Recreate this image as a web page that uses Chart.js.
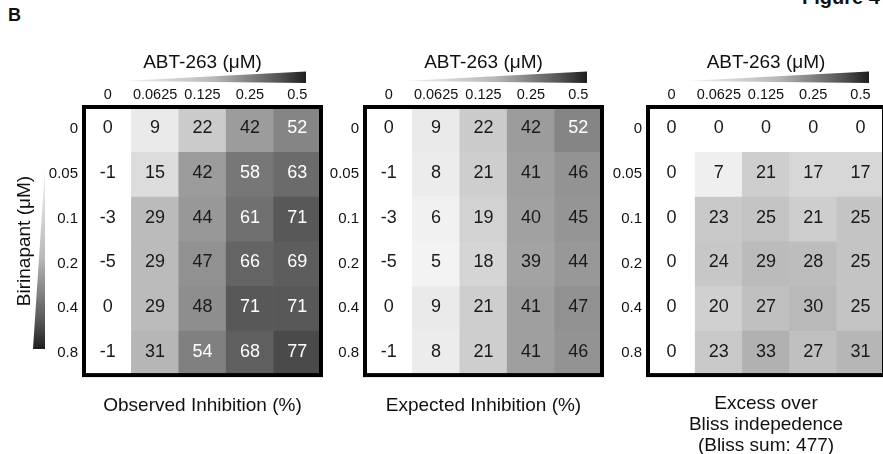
<!DOCTYPE html>
<html>
<head>
<meta charset="utf-8">
<script src="https://cdn.jsdelivr.net/npm/chart.js@4.4.1/dist/chart.umd.min.js"></script>
<style>
  html, body { margin: 0; padding: 0; background: #fff; overflow: hidden; }
  #page { position: relative; width: 883px; height: 454px; overflow: hidden; font-family: 'Liberation Sans', Arial, sans-serif; color: #111; }
  #page canvas { position: absolute; top: 0; display: block; }
  #panel-label { position: absolute; left: 8px; top: 6px; font-weight: bold; font-size: 18px; line-height: 18px; }
  #fig-label { position: absolute; left: 802px; top: -13px; font-weight: bold; font-size: 20px; line-height: 20px; white-space: nowrap; }
</style>
</head>
<body>
<div id="page">
  <div id="panel-label">B</div>
  <div id="fig-label">Figure 4</div>
  <canvas id="observedChart" width="324" height="470" style="left:0px"></canvas>
  <canvas id="expectedChart" width="288" height="470" style="left:324px"></canvas>
  <canvas id="excessChart" width="290" height="470" style="left:612px"></canvas>
</div>
<script>
// ABT-263 doses (columns) and Birinapant doses (rows)
const abtDoses = ['0', '0.0625', '0.125', '0.25', '0.5'];
const birinapantDoses = ['0', '0.05', '0.1', '0.2', '0.4', '0.8'];

// % inhibition, one inner array per Birinapant row
const observedInhibition = [
  [0, 9, 22, 42, 52],
  [-1, 15, 42, 58, 63],
  [-3, 29, 44, 61, 71],
  [-5, 29, 47, 66, 69],
  [0, 29, 48, 71, 71],
  [-1, 31, 54, 68, 77]
];
const expectedInhibition = [
  [0, 9, 22, 42, 52],
  [-1, 8, 21, 41, 46],
  [-3, 6, 19, 40, 45],
  [-5, 5, 18, 39, 44],
  [0, 9, 21, 41, 47],
  [-1, 8, 21, 41, 46]
];
const blissExcess = [
  [0, 0, 0, 0, 0],
  [0, 7, 21, 17, 17],
  [0, 23, 25, 21, 25],
  [0, 24, 29, 28, 25],
  [0, 20, 27, 30, 25],
  [0, 23, 33, 27, 31]
];

const FONT = "'Liberation Sans', Arial, sans-serif";
const INK = '#111';

// higher value -> darker gray, negatives stay white
function cellGray(v) {
  const g = Math.round(Math.max(0, Math.min(255, 255 - 2.35 * v)));
  return `rgb(${g},${g},${g})`;
}

// numbers inside cells
const cellLabels = {
  id: 'cellLabels',
  afterDatasetsDraw(chart) {
    const { ctx } = chart;
    ctx.save();
    ctx.font = `18px ${FONT}`;
    ctx.textAlign = 'center';
    ctx.textBaseline = 'middle';
    chart.data.datasets.forEach((ds, r) => {
      chart.getDatasetMeta(r).data.forEach((bar, c) => {
        const v = ds.cellValues[c];
        ctx.fillStyle = v >= 50 ? '#fff' : '#1a1a1a';
        ctx.fillText(String(v), bar.x, (bar.y + bar.base) / 2 - 1);
      });
    });
    ctx.restore();
  }
};

// black frame + dose gradient wedges
const frameAndWedges = {
  id: 'frameAndWedges',
  afterDraw(chart, args, opts) {
    const { ctx, chartArea: a } = chart;
    ctx.save();
    ctx.lineWidth = 4;
    ctx.strokeStyle = '#000';
    ctx.strokeRect(a.left, a.top, a.right - a.left, a.bottom - a.top);

    const x0 = a.left + 38, x1 = a.right - 15;
    const g = ctx.createLinearGradient(x0, 0, x1, 0);
    g.addColorStop(0, '#f4f4f4');
    g.addColorStop(0.5, '#b8b8b8');
    g.addColorStop(0.85, '#555');
    g.addColorStop(1, '#1e1e1e');
    ctx.fillStyle = g;
    ctx.beginPath();
    ctx.moveTo(x0, a.top - 26);
    ctx.lineTo(x1, a.top - 35.5);
    ctx.lineTo(x1, a.top - 24);
    ctx.closePath();
    ctx.fill();

    if (opts.vertical) {
      const y0 = a.top + 60, y1 = a.bottom - 26;
      const gv = ctx.createLinearGradient(0, y0, 0, y1);
      gv.addColorStop(0, '#f4f4f4');
      gv.addColorStop(0.5, '#b8b8b8');
      gv.addColorStop(0.85, '#555');
      gv.addColorStop(1, '#1e1e1e');
      ctx.fillStyle = gv;
      ctx.beginPath();
      ctx.moveTo(45, y0);
      ctx.lineTo(45, y1);
      ctx.lineTo(33, y1);
      ctx.closePath();
      ctx.fill();
    }
    ctx.restore();
  }
};

const panels = [
  { id: 'observedChart', values: observedInhibition, caption: 'Observed Inhibition (%)', axisWidth: 84, padRight: 3, padBottom: 53.5, captionPad: 20.5, rowTitle: true },
  { id: 'expectedChart', values: expectedInhibition, caption: 'Expected Inhibition (%)', axisWidth: 41, padRight: 10, padBottom: 53.5, captionPad: 20.5, rowTitle: false },
  { id: 'excessChart', values: blissExcess, caption: ['Excess over', 'Bliss indepedence', '(Bliss sum: 477)'], axisWidth: 36, padRight: 18, padBottom: 13.7, captionPad: 18.5, rowTitle: false }
];

panels.forEach(p => {
  new Chart(document.getElementById(p.id), {
    type: 'bar',
    data: {
      labels: abtDoses,
      datasets: p.values.map((row, r) => ({
        label: birinapantDoses[r],
        data: row.map(() => 1),
        cellValues: row,
        backgroundColor: row.map(cellGray),
        borderWidth: 0,
        barPercentage: 1,
        categoryPercentage: 1
      }))
    },
    options: {
      responsive: false,
      animation: false,
      layout: { padding: { left: 0, right: p.padRight, top: 0, bottom: p.padBottom } },
      scales: {
        x: {
          type: 'category',
          position: 'top',
          stacked: true,
          grid: { display: false, drawTicks: false },
          border: { display: false },
          afterFit: axis => { axis.height = 107; },
          ticks: { padding: 3, color: INK, font: { size: 14.5, family: FONT }, maxRotation: 0, autoSkip: false },
          title: { display: true, text: 'ABT-263 (μM)', color: INK, font: { size: 19, family: FONT }, padding: { top: 51, bottom: 0 } }
        },
        y: {
          type: 'linear',
          stacked: true,
          min: 0,
          max: birinapantDoses.length,
          reverse: true,
          grid: { display: false, drawTicks: false },
          border: { display: false },
          afterBuildTicks: axis => { axis.ticks = birinapantDoses.map((d, i) => ({ value: i + 0.5 })); },
          afterFit: axis => { axis.width = p.axisWidth; },
          ticks: { autoSkip: false, padding: 6, color: INK, font: { size: 15, family: FONT }, callback: (v, i) => birinapantDoses[i] },
          title: { display: p.rowTitle, text: 'Birinapant (μM)', color: INK, font: { size: 19, family: FONT }, padding: { top: 13.6, bottom: 0 } }
        }
      },
      plugins: {
        legend: { display: false },
        tooltip: { enabled: false },
        title: {
          display: true,
          position: 'bottom',
          fullSize: false,
          text: p.caption,
          color: INK,
          font: { size: 19, family: FONT, weight: 'normal', lineHeight: 1.1 },
          padding: { top: p.captionPad, bottom: 0 }
        },
        frameAndWedges: { vertical: p.rowTitle }
      }
    },
    plugins: [cellLabels, frameAndWedges]
  });
});
</script>
</body>
</html>
